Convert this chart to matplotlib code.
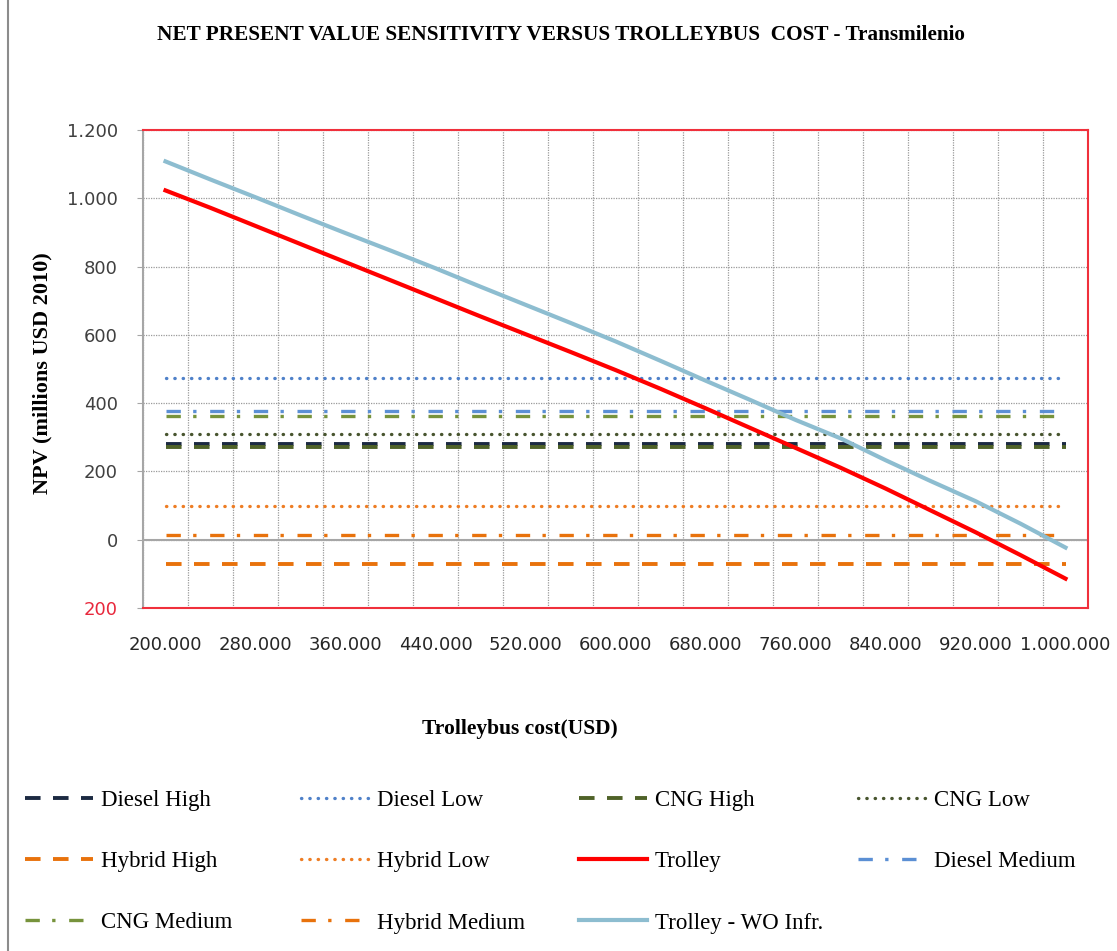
import matplotlib.pyplot as plt
from matplotlib.lines import Line2D
import numpy as np

# trolleybus unit cost (USD), one category every 40.000
cost_usd = [200000, 240000, 280000, 320000, 360000, 400000, 440000, 480000,
            520000, 560000, 600000, 640000, 680000, 720000, 760000, 800000,
            840000, 880000, 920000, 960000, 1000000]

# NPV (millions USD 2010) of the trolleybus options
trolley = [1023, 972, 919, 866, 813, 760, 707, 654, 602, 550, 497,
           442, 385, 327, 269, 211, 150, 86, 22, -45, -114]
trolley_wo_infr = [1108, 1055, 1003, 950, 898, 847, 795, 741, 688, 635, 581,
                   524, 466, 409, 351, 297, 233, 172, 113, 47, -23]

# NPV of the alternative technologies (do not depend on trolleybus cost)
diesel_high = 281
diesel_medium = 376
diesel_low = 475
cng_high = 271
cng_medium = 361
cng_low = 310
hybrid_high = -70
hybrid_medium = 13
hybrid_low = 100

serif = "Liberation Serif"
W, H = 1117, 951
fig = plt.figure(figsize=(W / 100, H / 100), dpi=100)
ax = fig.add_axes([143 / W, 1 - 608 / H, (1088 - 143) / W, (608 - 130) / H])

x = np.arange(len(cost_usd))
n = len(cost_usd)

dashed = (0, (4.0, 3.2))
dotted = (0, (0.1, 2.4))
dashdot = (0, (4.3, 3.7, 1.0, 4.1))

styles = {
    "Diesel High": dict(color="#1c2a42", ls=dashed, lw=2.8),
    "Diesel Low": dict(color="#4f81c9", ls=dotted, lw=2.4, dash_capstyle="round"),
    "CNG High": dict(color="#4f6228", ls=dashed, lw=2.8),
    "CNG Low": dict(color="#48552f", ls=dotted, lw=2.4, dash_capstyle="round"),
    "Hybrid High": dict(color="#e8720c", ls=dashed, lw=2.8),
    "Hybrid Low": dict(color="#ee7d24", ls=dotted, lw=2.4, dash_capstyle="round"),
    "Trolley": dict(color="#ff0000", ls="-", lw=3.0),
    "Diesel Medium": dict(color="#5b8fd4", ls=dashdot, lw=2.4),
    "CNG Medium": dict(color="#77933c", ls=dashdot, lw=2.4),
    "Hybrid Medium": dict(color="#e8720c", ls=dashdot, lw=2.4),
    "Trolley - WO Infr.": dict(color="#8dbdd0", ls="-", lw=3.0),
}

series = {
    "Diesel High": np.full(n, diesel_high),
    "Diesel Low": np.full(n, diesel_low),
    "CNG High": np.full(n, cng_high),
    "CNG Low": np.full(n, cng_low),
    "Hybrid High": np.full(n, hybrid_high),
    "Hybrid Low": np.full(n, hybrid_low),
    "Trolley": trolley,
    "Diesel Medium": np.full(n, diesel_medium),
    "CNG Medium": np.full(n, cng_medium),
    "Hybrid Medium": np.full(n, hybrid_medium),
    "Trolley - WO Infr.": trolley_wo_infr,
}

# draw order: flat lines first, trolley lines on top
draw_order = ["Diesel Low", "Diesel Medium", "CNG Medium", "CNG Low", "Diesel High",
              "CNG High", "Hybrid Low", "Hybrid Medium", "Hybrid High",
              "Trolley", "Trolley - WO Infr."]
for name in draw_order:
    st = styles[name]
    ax.plot(x, series[name], color=st["color"], linestyle=st["ls"], linewidth=st["lw"],
            dash_capstyle=st.get("dash_capstyle", "butt"), zorder=3)

ax.axhline(0, color="#a6a6a6", lw=1.5, zorder=2)

ax.set_xlim(-0.5, n - 0.5)
ax.set_ylim(-200, 1200)

# grid on category boundaries and every 200 on the value axis
ax.set_xticks(np.arange(-0.5, n, 1.0), minor=True)
ax.grid(True, which="minor", axis="x", color="#9a9a9a", ls=(0, (1, 1)), lw=0.9)
ax.set_yticks(np.arange(-200, 1201, 200))
ax.grid(True, which="major", axis="y", color="#9a9a9a", ls=(0, (1, 1)), lw=0.9)

ax.set_xticks(x[::2])
ax.set_xticklabels([f"{c:,}".replace(",", ".") for c in cost_usd[::2]],
                   fontsize=13, color="#262626", family="DejaVu Sans")
ax.tick_params(axis="x", which="both", length=0, pad=20)

ylabels = []
for v in range(-200, 1201, 200):
    ylabels.append(f"{abs(v):,}".replace(",", "."))
ax.set_yticklabels(ylabels, fontsize=13, color="#404040", family="DejaVu Sans")
ax.get_yticklabels()[0].set_color("#e8283c")
ax.tick_params(axis="y", length=4, color="#a6a6a6", pad=14)

for side in ["top", "right", "bottom"]:
    ax.spines[side].set_color("#f0303c")
    ax.spines[side].set_linewidth(1.5)
ax.spines["left"].set_color("#a6a6a6")
ax.spines["left"].set_linewidth(1.5)

fig.text(561 / W, 1 - 35 / H,
         "NET PRESENT VALUE SENSITIVITY VERSUS TROLLEYBUS  COST - Transmilenio",
         ha="center", va="center", fontsize=15.3, fontweight="bold", family=serif)
fig.text(520 / W, 1 - 729 / H, "Trolleybus cost(USD)", ha="center", va="center",
         fontsize=15.5, fontweight="bold", family=serif)
fig.text(42 / W, 1 - 373 / H, "NPV (millions USD 2010)", ha="center", va="center",
         rotation=90, fontsize=16, fontweight="bold", family=serif)

# legend: four columns placed separately, three rows
columns = [["Diesel High", "Hybrid High", "CNG Medium"],
           ["Diesel Low", "Hybrid Low", "Hybrid Medium"],
           ["CNG High", "Trolley", "Trolley - WO Infr."],
           ["CNG Low", "Diesel Medium"]]
col_x = [16, 292, 570, 849]
for cx, names in zip(col_x, columns):
    handles = []
    for name in names:
        st = styles[name]
        handles.append(Line2D([], [], color=st["color"], linestyle=st["ls"],
                              linewidth=st["lw"],
                              dash_capstyle=st.get("dash_capstyle", "butt")))
    fig.legend(handles, names, loc="upper left",
               bbox_to_anchor=(cx / W, 1 - 781 / H), frameon=False,
               prop={"family": serif, "size": 16.5}, handlelength=2.95,
               handletextpad=0.36, labelspacing=1.75, borderaxespad=0)

# left edge of the chart frame
fig.add_artist(Line2D([8 / W, 8 / W], [0, 1], transform=fig.transFigure,
                      color="#8c8c8c", lw=1.5))

fig.savefig("out.png", dpi=100)
